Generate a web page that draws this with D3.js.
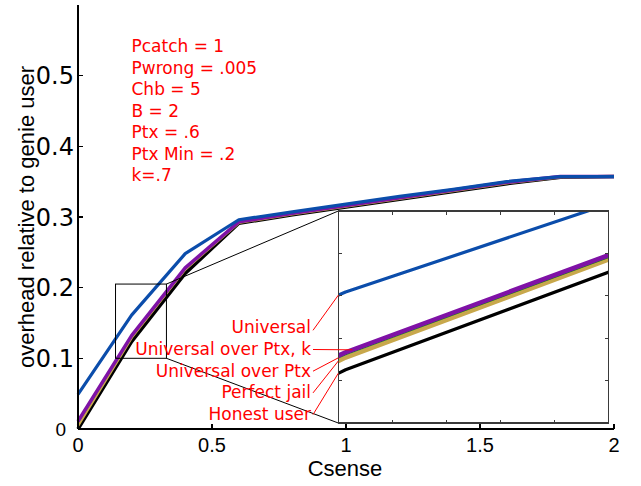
<!DOCTYPE html>
<html>
<head>
<meta charset="utf-8">
<script src="https://cdn.jsdelivr.net/npm/d3@7"></script>
<style>
  html, body { margin: 0; padding: 0; background: #fff; }
  svg { display: block; }
</style>
</head>
<body>
<svg id="chart" width="641" height="486"></svg>
<script>
// Sensing cost vs. overhead relative to a genie user
const csense      = [0, 0.2, 0.4, 0.6, 0.8, 1.0, 1.2, 1.4, 1.6, 1.8, 2.0];
const universal   = [0.049, 0.161, 0.248, 0.296, 0.307, 0.318, 0.329, 0.339, 0.350, 0.357, 0.357];
const overPtxK    = [0.011, 0.132, 0.228, 0.293, 0.305, 0.316, 0.327, 0.338, 0.349, 0.357, 0.357];
const overPtx     = [0.009, 0.131, 0.227, 0.2925, 0.3045, 0.3155, 0.3265, 0.3375, 0.3485, 0.357, 0.357];
const perfectJail = [0.005, 0.1295, 0.2263, 0.292, 0.304, 0.315, 0.326, 0.337, 0.348, 0.3565, 0.357];
const honestUser  = [0, 0.1236, 0.220, 0.291, 0.303, 0.314, 0.325, 0.336, 0.347, 0.356, 0.357];

const xTicks = [0, 0.5, 1, 1.5, 2];
const xTickLabels = ["0", "0.5", "1", "1.5", "2"];
const yTicks = [0, 0.1, 0.2, 0.3, 0.4, 0.5];
const yTickLabels = ["0", "0.1", "0.2", "0.3", "0.4", "0.5"];

const paramLines = ["Pcatch = 1", "Pwrong = .005", "Chb = 5", "B = 2", "Ptx = .6", "Ptx Min = .2", "k=.7"];
const seriesNames = ["Universal", "Universal over Ptx, k", "Universal over Ptx", "Perfect jail", "Honest user"];
// where each name's leader line meets its curve inside the magnified view (Csense)
const leaderAtX = [0.1973, 0.2025, 0.1973, 0.1973, 0.1973];

// magnified region: outline in the main axes, and the limits of the inset axes
const zoomBoxX = [0.14, 0.33];
const zoomBoxY = [0.10, 0.205];
const insetX = [0.1973, 0.2973];
const insetY = [0.098, 0.2];

const series = [
  { values: honestUser,  color: "#000000", w: 3.5, wi: 3.2 },
  { values: perfectJail, color: "#c8a84c", w: 3,   wi: 4.5 },
  { values: overPtx,     color: "#0a8a0a", w: 1.5, wi: 1.6 },
  { values: overPtxK,    color: "#7f12a6", w: 3.5, wi: 4.6 },
  { values: universal,   color: "#0b4dab", w: 3.2, wi: 3.2 }
];
// order of names -> series in the list above
const nameToSeries = [4, 3, 2, 1, 0];

const svg = d3.select("#chart");
const sans = "'Liberation Sans', Arial, Helvetica, sans-serif";
const dejavu = "'DejaVu Sans', sans-serif";

const x = d3.scaleLinear().domain([0, 2]).range([78, 614]);
const y = d3.scaleLinear().domain([0, 0.6]).range([429, 4.8]);

// curves in the main axes
const line = d3.line().x((d, i) => x(csense[i])).y(d => y(d));
series.forEach(s => {
  svg.append("path").attr("d", line(s.values))
    .attr("fill", "none").attr("stroke", s.color).attr("stroke-width", s.w)
    .attr("stroke-linejoin", "round");
});

// axes (box off, ticks pointing inward)
const axG = svg.append("g").attr("stroke", "#000").attr("stroke-width", 1.2).attr("shape-rendering", "crispEdges");
axG.append("line").attr("x1", x(0)).attr("x2", x(0)).attr("y1", y(0.6)).attr("y2", y(0));
axG.append("line").attr("x1", x(0)).attr("x2", x(2)).attr("y1", y(0)).attr("y2", y(0));
xTicks.forEach(t => axG.append("line").attr("x1", x(t)).attr("x2", x(t)).attr("y1", y(0)).attr("y2", y(0) - 5));
yTicks.forEach(t => axG.append("line").attr("x1", x(0)).attr("x2", x(0) + 5).attr("y1", y(t)).attr("y2", y(t)));

xTicks.forEach((t, i) => {
  svg.append("text").attr("x", x(t)).attr("y", 452)
    .attr("text-anchor", "middle").attr("font-family", sans).attr("font-size", 20)
    .text(xTickLabels[i]);
});
yTicks.forEach((t, i) => {
  const zero = t === 0;
  svg.append("text").attr("x", zero ? 66 : 74).attr("y", y(t))
    .attr("dy", "0.36em").attr("text-anchor", "end")
    .attr("font-family", zero ? sans : dejavu).attr("font-size", zero ? 19 : 24)
    .text(yTickLabels[i]);
});

svg.append("text").attr("x", 345).attr("y", 476)
  .attr("text-anchor", "middle").attr("font-family", sans).attr("font-size", 22)
  .text("Csense");
svg.append("text").attr("transform", "translate(34,217) rotate(-90)")
  .attr("text-anchor", "middle").attr("font-family", sans).attr("font-size", 22)
  .text("overhead relative to genie user");

// parameter block
paramLines.forEach((s, i) => {
  svg.append("text").attr("x", 131.5).attr("y", 52.3 + i * 21.45)
    .attr("font-family", dejavu).attr("font-size", 17).attr("fill", "#ff0000")
    .text(s);
});

// magnified view
const xi = d3.scaleLinear().domain(insetX).range([338.3, 608.3]);
const yi = d3.scaleLinear().domain(insetY).range([423, 211]);

// outline of the magnified region and the connectors to the inset
svg.append("rect")
  .attr("x", x(zoomBoxX[0])).attr("y", y(zoomBoxY[1]))
  .attr("width", x(zoomBoxX[1]) - x(zoomBoxX[0])).attr("height", y(zoomBoxY[0]) - y(zoomBoxY[1]))
  .attr("fill", "none").attr("stroke", "#000").attr("stroke-width", 1);
svg.append("line").attr("x1", x(zoomBoxX[1])).attr("y1", y(zoomBoxY[1]))
  .attr("x2", xi.range()[0]).attr("y2", yi.range()[1]).attr("stroke", "#000").attr("stroke-width", 1);
svg.append("line").attr("x1", x(zoomBoxX[1])).attr("y1", y(zoomBoxY[0]))
  .attr("x2", xi.range()[0]).attr("y2", yi.range()[0]).attr("stroke", "#000").attr("stroke-width", 1);

const [ix0, ix1] = xi.range();
const [iy0, iy1] = yi.range();
svg.append("rect").attr("x", ix0).attr("y", iy1).attr("width", ix1 - ix0).attr("height", iy0 - iy1)
  .attr("fill", "#fff");

svg.append("clipPath").attr("id", "insetClip").append("rect")
  .attr("x", ix0).attr("y", iy1).attr("width", ix1 - ix0).attr("height", iy0 - iy1);
const inset = svg.append("g").attr("clip-path", "url(#insetClip)");
const lineInset = d3.line().x((d, i) => xi(csense[i])).y(d => yi(d));
series.forEach(s => {
  inset.append("path").attr("d", lineInset(s.values))
    .attr("fill", "none").attr("stroke", s.color).attr("stroke-width", s.wi)
    .attr("stroke-linejoin", "round");
});

// inset frame with inward ticks on all four sides
const fr = svg.append("g").attr("stroke", "#3a3a3a").attr("stroke-width", 1.2).attr("fill", "none")
  .attr("shape-rendering", "crispEdges");
fr.append("rect").attr("x", ix0).attr("y", iy1).attr("width", ix1 - ix0).attr("height", iy0 - iy1);
const nDiv = 5;
d3.range(1, nDiv).forEach(k => {
  const tx = xi(insetX[0] + k * (insetX[1] - insetX[0]) / nDiv);
  const ty = yi(insetY[0] + k * (insetY[1] - insetY[0]) / nDiv);
  fr.append("line").attr("x1", tx).attr("x2", tx).attr("y1", iy0).attr("y2", iy0 - 3.5);
  fr.append("line").attr("x1", tx).attr("x2", tx).attr("y1", iy1).attr("y2", iy1 + 3.5);
  fr.append("line").attr("x1", ix0).attr("x2", ix0 + 3.5).attr("y1", ty).attr("y2", ty);
  fr.append("line").attr("x1", ix1).attr("x2", ix1 - 3.5).attr("y1", ty).attr("y2", ty);
});

// series names with red leader lines into the magnified view
const interp = (vals, cx) => {
  const j = d3.bisectRight(csense, cx) - 1;
  const t = (cx - csense[j]) / (csense[j + 1] - csense[j]);
  return vals[j] + t * (vals[j + 1] - vals[j]);
};
seriesNames.forEach((name, i) => {
  const base = 333.3 + i * 21.7;
  svg.append("text").attr("x", 311).attr("y", base)
    .attr("text-anchor", "end").attr("font-family", dejavu).attr("font-size", 17).attr("fill", "#ff0000")
    .text(name);
  const s = series[nameToSeries[i]];
  const lx = leaderAtX[i];
  svg.append("line")
    .attr("x1", 313).attr("y1", base - (i === 0 ? 3 : 5.5))
    .attr("x2", xi(lx)).attr("y2", yi(interp(s.values, lx)))
    .attr("stroke", "#ff0000").attr("stroke-width", 1);
});
</script>
</body>
</html>
